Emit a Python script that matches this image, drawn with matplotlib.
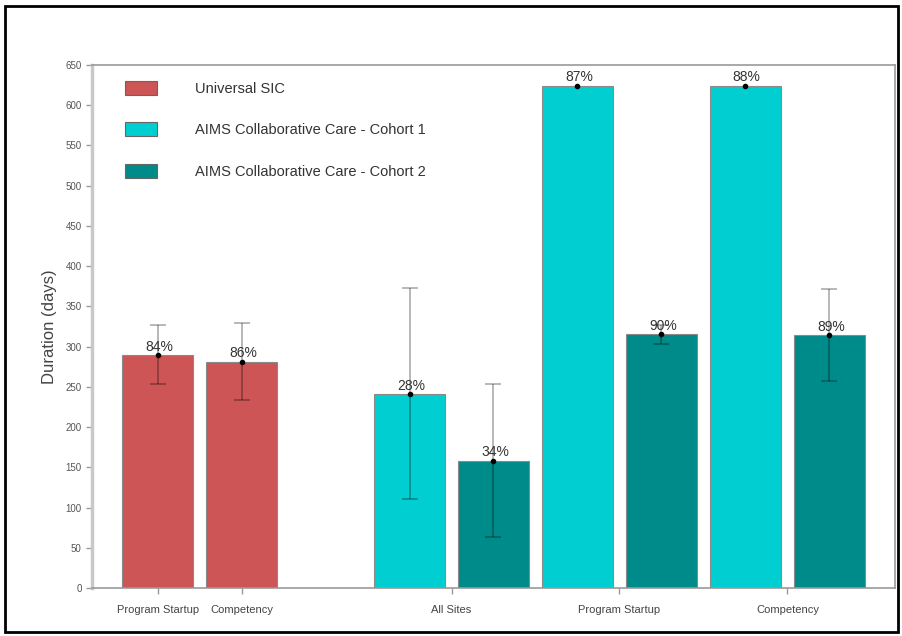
import numpy as np
import matplotlib
matplotlib.use("Agg")
import matplotlib.pyplot as plt
from matplotlib.patches import Patch, Rectangle

plt.rcParams['font.family'] = ['Liberation Sans Narrow', 'Liberation Sans', 'DejaVu Sans']

# Universal SIC
sic_labels = ['Program Startup', 'Competency']
sic_vals = [289, 281]
sic_lo = [253, 234]
sic_hi = [327, 329]
sic_pct = ['84%', '86%']

# AIMS Collaborative Care cohorts
aims_labels = ['All Sites', 'Program Startup', 'Competency']
c1_vals = [241, 624, 624]
c1_lo = [111, 624, 624]
c1_hi = [373, 624, 624]
c1_pct = ['28%', '87%', '88%']
c2_vals = [158, 315, 314]
c2_lo = [63, 303, 257]
c2_hi = [254, 327, 372]
c2_pct = ['34%', '90%', '89%']

series_names = ['Universal SIC', 'AIMS Collaborative Care - Cohort 1',
                'AIMS Collaborative Care - Cohort 2']
colors = ['#CD5555', '#00CED1', '#008B8B']

fig = plt.figure(figsize=(9.03, 6.36), dpi=100)
ax = fig.add_axes([0.102, 0.0755, 0.889, 0.8225])

width = 0.845
sic_x = np.arange(len(sic_vals))
c1_x = 3 + 2 * np.arange(len(c1_vals))
c2_x = c1_x + 1


def draw(xs, vals, lo, hi, pct, color):
    ax.bar(xs, vals, width, color=color, edgecolor='#8a8a8a', linewidth=0.8, zorder=2)
    xs, vals, lo, hi = map(np.asarray, (xs, vals, lo, hi))
    has_err = hi > lo
    if has_err.any():
        yerr = [vals[has_err] - lo[has_err], hi[has_err] - vals[has_err]]
        ax.errorbar(xs[has_err], vals[has_err], yerr=yerr, fmt='none', ecolor='black',
                    alpha=0.3, elinewidth=1.3, capsize=6, capthick=1.3, zorder=3)
    ax.plot(xs, vals, 'o', color='black', markersize=3, zorder=4)
    for x, v, t in zip(xs, vals, pct):
        ax.annotate(t, (x, v), xytext=(1, 1), textcoords='offset points',
                    ha='center', va='bottom', fontsize=10, color='#333333', zorder=5)


draw(sic_x, sic_vals, sic_lo, sic_hi, sic_pct, colors[0])
draw(c1_x, c1_vals, c1_lo, c1_hi, c1_pct, colors[1])
draw(c2_x, c2_vals, c2_lo, c2_hi, c2_pct, colors[2])

ax.set_xlim(-0.78, 8.78)
ax.set_ylim(0, 650)
ax.set_yticks(np.arange(0, 651, 50))
ax.set_xticks(list(sic_x) + list((c1_x + c2_x) / 2))
ax.set_xticklabels(sic_labels + aims_labels)
ax.tick_params(axis='y', labelsize=7, colors='#999999', labelcolor='#555555',
               length=4, width=1)
ax.tick_params(axis='x', labelsize=8, colors='#999999', labelcolor='#444444',
               length=4, width=1, pad=8)
ax.set_ylabel('Duration (days)', fontsize=12, color='#444444', labelpad=6)

for side in ['top', 'right', 'bottom']:
    ax.spines[side].set_color('#999999')
    ax.spines[side].set_linewidth(1.2)
ax.spines['left'].set_color('#c8c8c8')
ax.spines['left'].set_linewidth(2.5)

handles = [Patch(facecolor=c, edgecolor='#666666', linewidth=0.8) for c in colors]
ax.legend(handles, series_names, loc='upper left', bbox_to_anchor=(0.025, 0.994),
          frameon=False, fontsize=10.5, handlelength=2.2, handleheight=1.1,
          labelspacing=1.8, handletextpad=2.6, labelcolor='#333333')

# thin black frame around the whole figure
fig.patches.append(Rectangle((0.006, 0.007), 0.988, 0.984, transform=fig.transFigure,
                             fill=False, edgecolor='black', linewidth=2))

fig.savefig('out.png', dpi=100)
